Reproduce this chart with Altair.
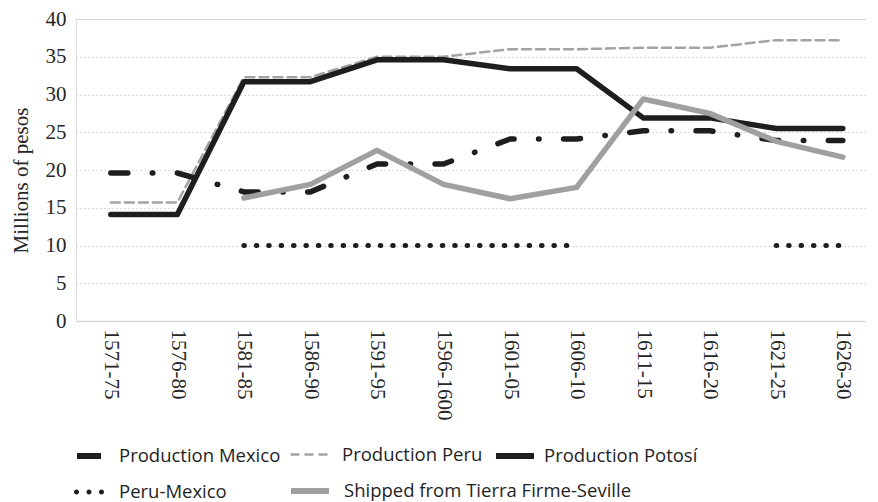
import altair as alt
import pandas as pd

categories = ["1571-75", "1576-80", "1581-85", "1586-90", "1591-95", "1596-1600",
              "1601-05", "1606-10", "1611-15", "1616-20", "1621-25", "1626-30"]
mexico = [19.6, 19.6, 17.1, 17.1, 20.8, 20.8, 24.1, 24.1, 25.2, 25.2, 23.9, 23.9]
peru = [15.7, 15.7, 32.3, 32.3, 35.0, 35.0, 36.0, 36.0, 36.2, 36.2, 37.2, 37.2]
potosi = [14.1, 14.1, 31.7, 31.7, 34.6, 34.6, 33.4, 33.4, 26.9, 26.9, 25.5, 25.5]
peru_mexico = [None, None, 10, 10, 10, 10, 10, 10, None, None, 10, 10]
shipped = [None, None, 16.3, 18.1, 22.6, 18.1, 16.2, 17.7, 29.4, 27.5, 23.8, 21.7]

names = ["Production Mexico", "Production Peru", "Production Potosí",
         "Peru-Mexico", "Shipped from Tierra Firme-Seville"]
series_values = [mexico, peru, potosi, peru_mexico, shipped]

rows = []
for name, vals in zip(names, series_values):
    seg = 0
    prev_none = False
    for cat, v in zip(categories, vals):
        if v is None:
            prev_none = True
            continue
        if prev_none:
            seg += 1
            prev_none = False
        rows.append({"period": cat, "value": v, "series": name, "seg": seg})
df = pd.DataFrame(rows)

SERIF = "Liberation Serif"
SANS = "Open Sans"

x_enc = alt.X("period:N", sort=categories,
              scale=alt.Scale(type="point", domain=categories, padding=0.436, align=0.6),
              axis=alt.Axis(title=None, labelAngle=90, labelFont=SERIF, labelFontSize=21,
                            labelColor="#262626", labelPadding=8, ticks=False, grid=False,
                            domainColor="#d9d9d9", domainWidth=1.5, labelOverlap=False))
y_enc = alt.Y("value:Q", scale=alt.Scale(domain=[0, 40]),
              axis=alt.Axis(title="Millions of pesos", values=[0, 5, 10, 15, 20, 25, 30, 35, 40],
                            labelFont=SERIF, labelFontSize=21, labelColor="#262626",
                            labelPadding=10, titleFont=SERIF, titleFontSize=21,
                            titleFontWeight="normal", titleColor="#262626", titlePadding=14,
                            titleY=161,
                            domain=False, ticks=False, grid=True, gridColor="#cfcfcf",
                            gridDash=[1.5, 2.5], gridWidth=1))

ROW1 = 419
ROW2 = 454

def dots_path():
    r = 0.167
    parts = []
    for cx in (-0.833, 0.0, 0.833):
        parts.append(f"M{cx - r:.3f},0A{r},{r} 0 1,1 {cx + r:.3f},0A{r},{r} 0 1,1 {cx - r:.3f},0Z")
    return "".join(parts)

specs = {
    "Production Peru": dict(color="#a3a3a3", width=2.5, dash=[9, 5], lx=213, ly=ROW1 - 4, loff=12,
                            sdash=[9, 5], swidth=2.5, ssize=1444, stype="stroke"),
    "Production Mexico": dict(color="#1e1e1e", width=5.5, dash=[17, 24.5, 0.5, 24.5], lx=-2, ly=ROW1,
                              loff=9, sdash=[24, 40], swidth=6, ssize=900, stype="stroke"),
    "Peru-Mexico": dict(color="#1e1e1e", width=5, dash=[0.5, 11.9], lx=-2, ly=ROW2 + 4, loff=15,
                        sdash=None, swidth=0, ssize=900, stype=dots_path()),
    "Production Potosí": dict(color="#1e1e1e", width=5.5, dash=None, lx=417, ly=ROW1 - 4, loff=7,
                              sdash=None, swidth=6, ssize=1444, stype="stroke"),
    "Shipped from Tierra Firme-Seville": dict(color="#a0a0a0", width=5.5, dash=None, lx=212,
                                              ly=ROW2 - 4, loff=12, sdash=None, swidth=6,
                                              ssize=1444, stype="stroke"),
}

layers = []
for name, s in specs.items():
    legend_kwargs = dict(orient="none", legendX=s["lx"], legendY=s["ly"], direction="vertical",
                         title=None, padding=0, labelFont=SANS, labelFontSize=18.5,
                         labelColor="#1f1f1f", labelOffset=s["loff"], labelLimit=600,
                         symbolType=s["stype"], symbolSize=s["ssize"],
                         symbolStrokeWidth=s["swidth"])
    if s["sdash"] is not None:
        legend_kwargs["symbolDash"] = s["sdash"]
    if s["stype"] != "stroke":
        legend_kwargs["symbolFillColor"] = s["color"]
    mark_kwargs = dict(strokeWidth=s["width"], strokeCap="round", strokeJoin="round")
    if s["dash"] is not None:
        mark_kwargs["strokeDash"] = s["dash"]
    layer = alt.Chart(df).transform_filter(
        alt.datum.series == name
    ).mark_line(**mark_kwargs).encode(
        x=x_enc,
        y=y_enc,
        detail="seg:N",
        color=alt.Color("series:N", scale=alt.Scale(domain=[name], range=[s["color"]]),
                        legend=alt.Legend(**legend_kwargs)),
    )
    layers.append(layer)

chart = alt.layer(*layers).resolve_scale(color="independent").resolve_legend(
    color="independent"
).properties(
    width=790, height=302,
    padding={"left": 2, "top": 0, "right": 0, "bottom": 0},
).configure_view(stroke=None).configure(background="white")

chart.save("out.html", embed_options={"renderer": "svg", "actions": False})
